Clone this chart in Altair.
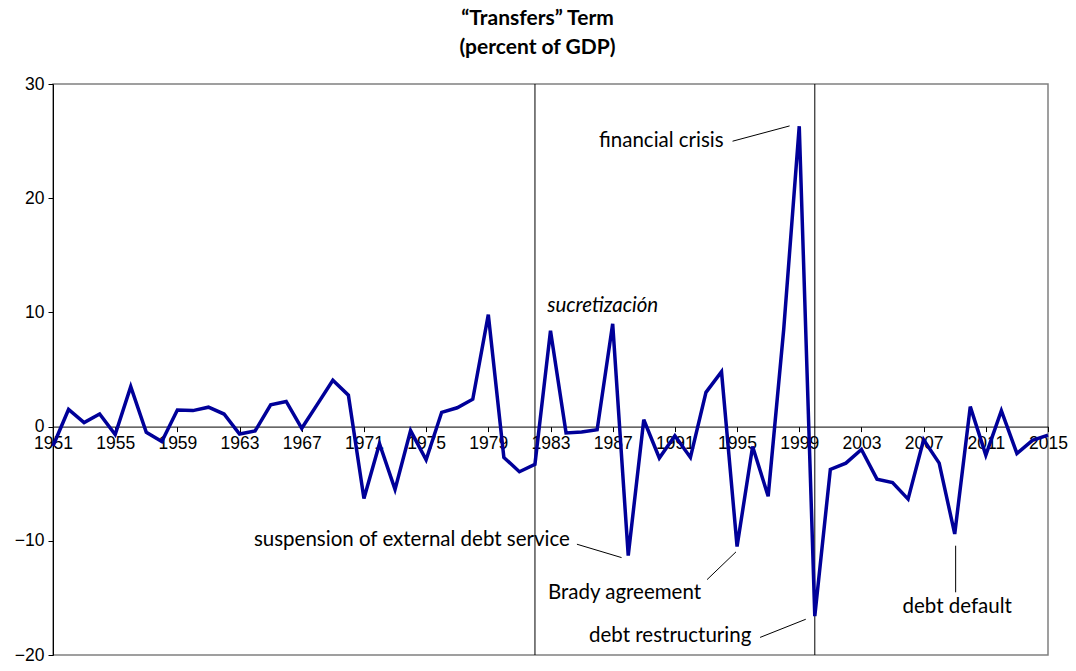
import altair as alt
import pandas as pd

years = list(range(1951, 2016))
values = [
    -1.7, 1.5, 0.35, 1.1, -0.7, 3.5, -0.5, -1.3, 1.45, 1.4,
    1.7, 1.1, -0.65, -0.38, 1.9, 2.2, -0.15, 1.95, 4.05, 2.75,
    -6.3, -1.5, -5.5, -0.35, -2.9, 1.25, 1.65, 2.4, 9.8, -2.7,
    -3.95, -3.3, 8.4, -0.55, -0.48, -0.28, 9.0, -11.3, 0.6, -2.75,
    -0.8, -2.7, 3.0, 4.8, -10.5, -1.75, -6.1, 8.5, 26.3, -16.6,
    -3.75, -3.2, -2.0, -4.6, -4.9, -6.35, -1.15, -3.2, -9.4, 1.75,
    -2.5, 1.4, -2.35, -1.2, -0.75,
]

divider_years = [1982, 2000]

ann_text = ["financial crisis", "sucretización", "suspension of external debt service",
            "Brady agreement", "debt restructuring", "debt default"]
ann_x = [1990.13, 1986.36, 1984.25, 1987.76, 1990.70, 2009.16]
ann_y = [24.97, 10.56, -9.93, -14.53, -18.33, -15.83]
ann_align = ["center", "center", "right", "center", "center", "center"]
ann_style = ["normal", "italic", "normal", "normal", "normal", "normal"]

lead_x = [1994.71, 1984.70, 1993.07, 1996.48, 2009.06]
lead_y = [24.99, -10.30, -13.40, -18.46, -10.43]
lead_x2 = [1998.38, 1987.57, 1994.93, 1999.42, 2009.06]
lead_y2 = [26.33, -11.47, -10.97, -16.87, -14.51]

df = pd.DataFrame({"year": years, "value": values})
div_df = pd.DataFrame({"year": divider_years})
ann_df = pd.DataFrame({"x": ann_x, "y": ann_y, "label": ann_text,
                       "align": ann_align, "style": ann_style})
lead_df = pd.DataFrame({"x": lead_x, "y": lead_y, "x2": lead_x2, "y2": lead_y2})

W, H = 995, 571
xs = alt.Scale(domain=[1951, 2015], nice=False, zero=False)
ys = alt.Scale(domain=[-20, 30], nice=False, zero=False)

x_axis = alt.Axis(values=list(range(1951, 2016, 4)), format="d", title=None,
                  offset=-(H * 20 / 50), labelFont="Liberation Sans", labelFontSize=17.5,
                  labelColor="black", domainColor="black", tickColor="black",
                  tickSize=5, labelPadding=3, grid=False, labelFlush=False)
y_axis = alt.Axis(values=[-20, -10, 0, 10, 20, 30], title=None, labelFont="Liberation Sans",
                  labelFontSize=17.5, labelColor="black", domainColor="black",
                  tickColor="black", tickSize=5, labelPadding=4, grid=False)

base_x = alt.X("year:Q", scale=xs, axis=x_axis)

line = alt.Chart(df).mark_line(color="#000099", strokeWidth=3.5, strokeJoin="miter").encode(
    x=base_x,
    y=alt.Y("value:Q", scale=ys, axis=y_axis),
)

rules = alt.Chart(div_df).mark_rule(color="black", strokeWidth=1).encode(
    x=alt.X("year:Q", scale=xs),
    y=alt.value(0),
    y2=alt.value(H),
)

leaders = alt.Chart(lead_df).mark_rule(color="black", strokeWidth=1).encode(
    x=alt.X("x:Q", scale=xs), y=alt.Y("y:Q", scale=ys),
    x2="x2:Q", y2="y2:Q",
)

texts = []
for al in ["center", "right"]:
    for st in ["normal", "italic"]:
        sub = ann_df[(ann_df["align"] == al) & (ann_df["style"] == st)]
        if len(sub) == 0:
            continue
        texts.append(
            alt.Chart(sub).mark_text(align=al, baseline="middle", font="Lato",
                                     fontSize=20.5, fontStyle=st, color="black").encode(
                x=alt.X("x:Q", scale=xs), y=alt.Y("y:Q", scale=ys), text="label:N")
        )

chart = alt.layer(rules, line, leaders, *texts).properties(
    width=W, height=H,
    title=alt.TitleParams(text=["\u201cTransfers\u201d Term", "(percent of GDP)"],
                          font="Lato", fontSize=21, fontWeight="bold", color="black",
                          anchor="middle", dx=-13, lineHeight=29, offset=17),
    autosize=alt.AutoSizeParams(type="none"),
    padding={"left": 45, "top": 76, "right": 20, "bottom": 8},
).configure_view(stroke="#808080", strokeWidth=1.5)

chart.save("out.html", embed_options={"renderer": "svg", "actions": False})
